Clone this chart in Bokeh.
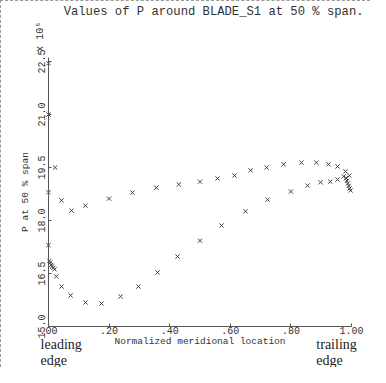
from bokeh.plotting import figure
from bokeh.models import Range1d, FixedTicker, Label
from bokeh.embed import file_html
from bokeh.resources import INLINE

# ---- data (P in units of 10^5) ----
x_upper = [0.022, 0.043, 0.076, 0.122, 0.20, 0.277, 0.356, 0.43, 0.50, 0.558,
           0.614, 0.667, 0.72, 0.776, 0.835, 0.884, 0.924, 0.954, 0.98, 0.993]
p_upper = [19.50, 18.57, 18.28, 18.42, 18.62, 18.79, 18.93, 19.02, 19.10, 19.19,
           19.27, 19.42, 19.50, 19.59, 19.64, 19.64, 19.59, 19.53, 19.39, 19.27]
x_lower = [0.026, 0.043, 0.073, 0.122, 0.175, 0.238, 0.297, 0.36, 0.426, 0.50,
           0.571, 0.65, 0.723, 0.80, 0.855, 0.898, 0.93, 0.954, 0.974]
p_lower = [16.42, 16.13, 15.88, 15.68, 15.65, 15.85, 16.13, 16.53, 16.98, 17.43,
           17.86, 18.26, 18.59, 18.82, 18.99, 19.08, 19.10, 19.16, 19.25]
x_le = [0.0, 0.0, 0.0, 0.0, 0.003, 0.006, 0.009, 0.012, 0.016, 0.020]
p_le = [22.45, 21.00, 18.80, 17.30, 16.86, 16.80, 16.74, 16.70, 16.66, 16.62]
x_te = [0.982, 0.985, 0.988, 0.991, 0.994, 0.997]
p_te = [19.20, 19.12, 19.05, 18.98, 18.91, 18.85]

x_ticks = [0.0, 0.2, 0.4, 0.6, 0.8, 1.0]
x_tick_labels = [".00", ".20", ".40", ".60", ".80", "1.00"]
y_ticks = [15.0, 16.5, 18.0, 19.5, 21.0, 22.5]
y_tick_labels = ["15.0", "16.5", "18.0", "19.5", "21.0", "22.5"]

FONT = "Liberation Mono"
SERIF = "Liberation Serif"
INK = "#333333"

p = figure(width=370, height=367, output_backend="svg", toolbar_location=None,
           x_range=Range1d(-0.1551, 1.0660), y_range=Range1d(13.811, 24.199),
           min_border_left=0, min_border_right=0, min_border_top=0,
           min_border_bottom=0)
p.styles = {"border-left": "1px dashed #999999", "border-top": "1px dashed #999999"}

p.xgrid.visible = False
p.ygrid.visible = False
p.outline_line_color = None

for ax in (p.xaxis[0], p.yaxis[0]):
    ax.axis_line_color = "#555555"
    ax.major_tick_line_color = "#555555"
    ax.minor_tick_line_color = None
    ax.major_tick_in = 3
    ax.major_tick_out = 0
    ax.major_label_text_font = FONT
    ax.major_label_text_font_size = "10px"
    ax.major_label_text_color = INK
    ax.axis_label_text_font = FONT
    ax.axis_label_text_font_size = "9.5px"
    ax.axis_label_text_font_style = "normal"
    ax.axis_label_text_color = INK

p.xaxis.fixed_location = 15.0
p.xaxis.bounds = (0.0, 1.0)
p.xaxis.ticker = FixedTicker(ticks=x_ticks)
p.xaxis.major_label_overrides = dict(zip(x_ticks, x_tick_labels))
p.xaxis.major_label_standoff = 1
p.xaxis.axis_label = "Normalized meridional location"
p.xaxis.axis_label_standoff = -2

p.yaxis.fixed_location = 0.0
p.yaxis.bounds = (15.0, 22.6)
p.yaxis.ticker = FixedTicker(ticks=y_ticks)
p.yaxis.major_label_overrides = dict(zip(y_ticks, y_tick_labels))
p.yaxis.major_label_orientation = "vertical"
p.yaxis.major_label_standoff = 3
p.yaxis.axis_label = "P at 50 % span"
p.yaxis.axis_label_standoff = 5

mk = dict(marker="x", size=6, line_color="#444444", line_width=1)
p.scatter(x_upper, p_upper, **mk)
p.scatter(x_lower, p_lower, **mk)
p.scatter(x_le, p_le, **mk)
p.scatter(x_te, p_te, **mk)

# title and scale annotation
p.add_layout(Label(x=0.050, y=23.90, text="Values of P around BLADE_S1 at 50 % span.",
                   text_font=FONT, text_font_size="12.2px", text_color=INK,
                   text_align="left", text_baseline="middle"))
p.add_layout(Label(x=-0.028, y=23.2, text="x 10\u2075", angle=1.5708,
                   text_font=FONT, text_font_size="10px", text_color=INK,
                   text_align="center", text_baseline="middle"))

for txt, xx, yy in [("leading", -0.026, 14.48), ("edge", -0.026, 14.03),
                    ("trailing", 0.884, 14.48), ("edge", 0.884, 14.03)]:
    p.add_layout(Label(x=xx, y=yy, text=txt, text_font=SERIF,
                       text_font_size="14px", text_color="#222222",
                       text_align="left", text_baseline="middle"))

open("out.html", "w").write(file_html(p, INLINE))
